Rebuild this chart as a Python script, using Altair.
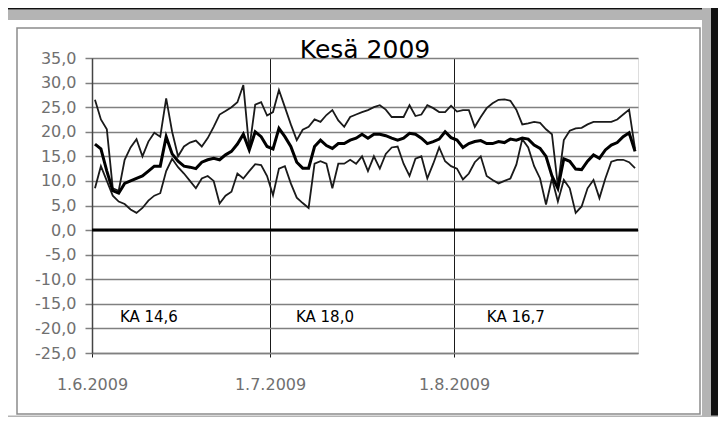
import altair as alt
import pandas as pd

# ---- data -------------------------------------------------------------
days = pd.date_range("2009-06-01", "2009-08-31", freq="D")
day_pos = [d.strftime("%Y-%m-%dT12:00:00") for d in days]

max_t = [26.5, 22.5, 20.5, 8.5, 8.0, 14.3, 16.8, 18.5, 15.0, 18.0,
         19.8, 19.0, 26.8, 20.0, 15.0, 17.0, 17.8, 18.2, 17.0, 18.7,
         21.0, 23.5, 24.2, 25.0, 26.0, 29.5, 16.5, 25.5, 26.0, 23.3,
         24.0, 28.5, 25.0, 21.5, 18.3, 20.4, 21.0, 22.5, 22.0, 23.4,
         24.4, 22.3, 21.0, 23.0, 23.5, 24.0, 24.4, 25.0, 25.4, 24.5,
         23.0, 23.0, 23.0, 25.4, 23.2, 23.5, 25.4, 24.8, 24.0, 24.0,
         25.3, 24.1, 24.4, 24.4, 21.0, 23.0, 24.8, 25.8, 26.5, 26.6,
         26.3, 24.5, 21.5, 21.7, 22.0, 21.8, 20.5, 19.5, 9.0, 18.3,
         20.2, 20.7, 20.8, 21.5, 22.0, 22.0, 22.0, 22.0, 22.5, 23.5,
         24.5, 16.5]

mean_t = [17.5, 16.5, 12.0, 8.0, 7.5, 9.5, 10.0, 10.5, 11.0, 12.0,
          13.0, 13.0, 19.0, 15.5, 14.0, 13.0, 12.8, 12.5, 13.8, 14.3,
          14.6, 14.3, 15.3, 16.0, 17.5, 19.5, 16.3, 20.0, 19.0, 17.0,
          16.5, 20.7, 19.0, 17.0, 13.8, 12.6, 12.6, 17.0, 18.3, 17.2,
          16.6, 17.6, 17.6, 18.3, 18.7, 19.5, 18.7, 19.5, 19.5, 19.2,
          18.7, 18.3, 18.7, 19.7, 19.5, 18.7, 17.6, 18.0, 18.5, 20.0,
          18.8, 18.3, 16.8, 17.6, 18.0, 18.2, 17.6, 17.6, 18.0, 17.8,
          18.5, 18.3, 18.7, 18.5, 17.3, 16.6, 15.0, 11.0, 8.5, 14.5,
          14.0, 12.4, 12.3, 14.0, 15.3, 14.6, 16.3, 17.3, 17.8, 19.0,
          19.8, 16.0]

min_t = [8.5, 13.0, 10.0, 7.0, 5.8, 5.3, 4.2, 3.5, 4.5, 6.0,
         7.0, 7.5, 12.0, 14.5, 12.8, 11.5, 10.0, 8.5, 10.5, 11.0,
         10.0, 5.4, 7.0, 7.8, 11.5, 10.5, 12.0, 13.4, 13.2, 11.0,
         7.1, 12.5, 13.0, 9.5, 6.6, 5.5, 4.5, 13.5, 14.0, 13.5,
         8.5, 13.5, 13.5, 14.3, 13.5, 15.0, 12.0, 15.0, 12.5, 15.5,
         16.8, 17.0, 13.5, 11.0, 14.5, 15.0, 10.5, 13.5, 16.8, 14.0,
         13.0, 12.5, 10.3, 11.5, 13.8, 15.0, 11.0, 10.2, 9.5, 10.0,
         10.5, 13.3, 18.5, 16.8, 13.0, 10.5, 5.2, 10.5, 5.8, 10.2,
         8.5, 3.5, 4.8, 8.5, 10.2, 6.5, 10.5, 13.9, 14.3, 14.3,
         13.8, 12.6]

y_ticks = [-25, -20, -15, -10, -5, 0, 5, 10, 15, 20, 25, 30, 35]
month_ticks = [(2009, 6, 1), (2009, 7, 1), (2009, 8, 1)]
x_domain = [(2009, 6, 1), (2009, 9, 1)]
zero_level = [0]

ka_labels = ["KA 14,6", "KA 18,0", "KA 16,7"]
ka_pos = ["2009-06-10T14:00:00", "2009-07-10T06:00:00", "2009-08-11T10:00:00"]
ka_level = [-17.7, -17.7, -17.7]

title_text = "Kesä 2009"

# ---- scales / axes ----------------------------------------------------
def dt(t):
    return alt.DateTime(year=t[0], month=t[1], date=t[2])

xscale = alt.Scale(domain=[dt(t) for t in x_domain], nice=False)
yscale = alt.Scale(domain=[min(y_ticks), max(y_ticks)], nice=False, zero=False)

xaxis = alt.Axis(
    values=[dt(t) for t in month_ticks],
    labelExpr="timeFormat(datum.value, '%-d.%-m.%Y')",
    grid=True, gridColor="#1a1a1a", gridWidth=1,
    domainColor="#808080", domainWidth=1.5,
    tickColor="#1a1a1a", tickSize=4,
    labelColor="#707070", labelFont="DejaVu Sans", labelFontSize=16,
    labelPadding=19, labelFlush=False, labelOverlap=False, title=None,
)
yaxis = alt.Axis(
    values=y_ticks,
    labelExpr="(datum.value < 0 ? '-' : '') + replace(format(abs(datum.value), '.1f'), '.', ',')",
    grid=True, gridColor="#808080", gridWidth=1.6,
    domainColor="#444444", domainWidth=1.5,
    tickColor="#808080", tickSize=7, tickWidth=1.5,
    labelColor="#707070", labelFont="DejaVu Sans", labelFontSize=16,
    labelPadding=9, labelFlush=False, labelOverlap=False, title=None,
)

X = alt.X("date:T", scale=xscale, axis=xaxis, title=None)

def Y(field):
    return alt.Y(f"{field}:Q", scale=yscale, axis=yaxis, title=None)

# ---- frame decoration (outside plot area) -----------------------------
one = alt.Data(values=[{}])

def band(x1, x2, y1, y2, color):
    return alt.Chart(one).mark_rect(color=color).encode(
        x=alt.value(x1), x2=alt.value(x2), y=alt.value(y1), y2=alt.value(y2)
    )

gray = "#b4b4b4"
deco = [
    band(-84, 626, -48.5, -38, gray),
    band(-84, 626, -50, -48.5, "#111111"),
    band(610, 619, -50, 359, gray),
    band(619, 626, -50, 359, "#111111"),
    band(-84, 626, 357.5, 359, gray),
    alt.Chart(one).mark_rect(fillOpacity=0, stroke="#8c8c8c", strokeWidth=1.5).encode(
        x=alt.value(-75), x2=alt.value(608), y=alt.value(-30), y2=alt.value(356)
    ),
]

# ---- data layers -------------------------------------------------------
df = pd.DataFrame({"date": day_pos, "max": max_t, "mean": mean_t, "min": min_t})
base = alt.Chart(df)

zero = alt.Chart(pd.DataFrame({"val": zero_level})).mark_rule(
    color="black", strokeWidth=3
).encode(y=Y("val"))

line_max = base.mark_line(color="#1a1a1a", strokeWidth=1.8).encode(x=X, y=Y("max"))
line_min = base.mark_line(color="#1a1a1a", strokeWidth=1.8).encode(x=X, y=Y("min"))
line_mean = base.mark_line(color="#000000", strokeWidth=3).encode(x=X, y=Y("mean"))

ka = alt.Chart(pd.DataFrame({"date": ka_pos, "val": ka_level, "label": ka_labels})).mark_text(
    font="DejaVu Sans", fontSize=15, color="black", align="center", baseline="middle"
).encode(x=X, y=Y("val"), text="label:N")

chart = alt.layer(*deco, zero, line_max, line_min, line_mean, ka).properties(
    width=546,
    height=295,
    autosize=alt.AutoSizeParams(type="none"),
    padding={"left": 84, "top": 50, "right": 80, "bottom": 64},
    title=alt.TitleParams(
        text=title_text, font="DejaVu Sans", fontSize=25, fontWeight="normal",
        color="black", anchor="middle", frame="group", baseline="alphabetic",
        offset=0, dy=75,
    ),
).configure_view(stroke="#808080", strokeWidth=1.5).configure(background="white")

chart.save("out.html", embed_options={"renderer": "svg", "actions": False})
